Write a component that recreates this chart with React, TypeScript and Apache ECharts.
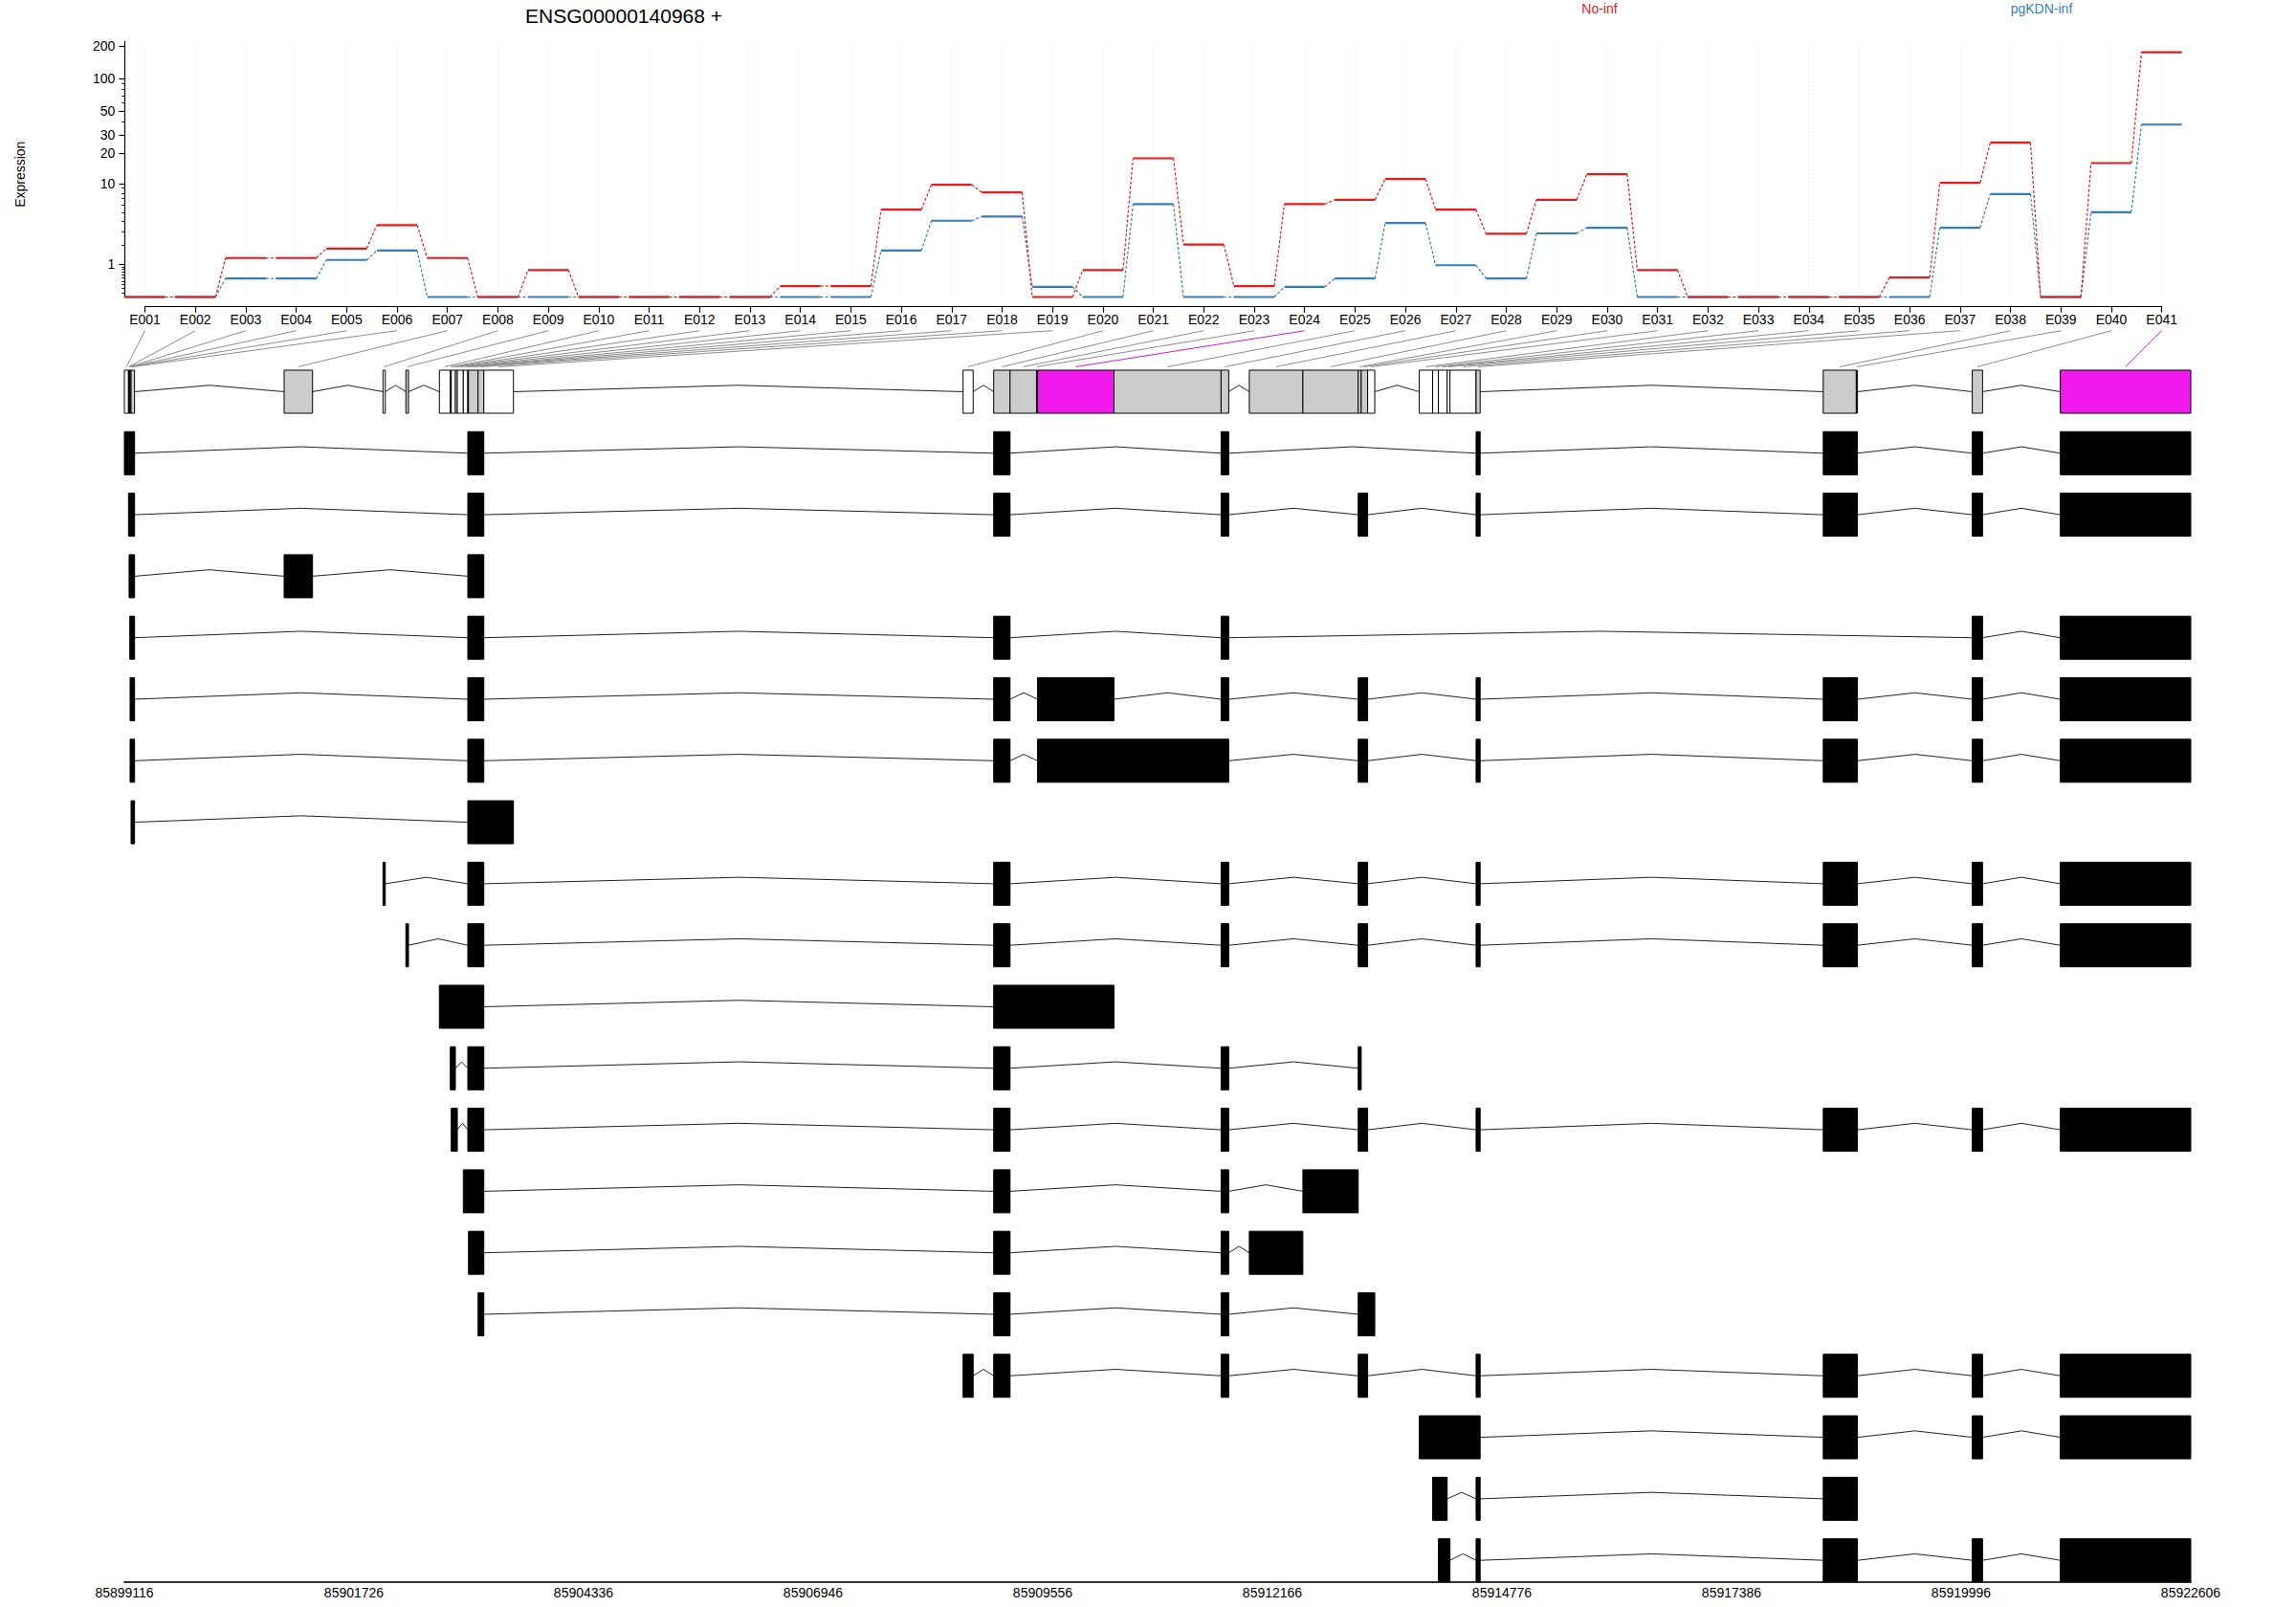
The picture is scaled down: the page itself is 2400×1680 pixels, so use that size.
import React, { useEffect, useRef } from "react";
import * as echarts from "echarts";

// ---------- data ----------
const GENE_ID = "ENSG00000140968 +";
const GENE_START = 85899116;
const GENE_END = 85922606;
const GENOME_TICK_STEP = 2610;

const exonLabels = [
  "E001","E002","E003","E004","E005","E006","E007","E008","E009","E010",
  "E011","E012","E013","E014","E015","E016","E017","E018","E019","E020",
  "E021","E022","E023","E024","E025","E026","E027","E028","E029","E030",
  "E031","E032","E033","E034","E035","E036","E037","E038","E039","E040","E041",
];

const conditionNames = ["No-inf", "pgKDN-inf"];
const yAxisTitle = "Expression";

const noInf = [
  0, 0, 1.28, 1.28, 1.79, 3.57, 1.28, 0, 0.77, 0,
  0, 0, 0, 0.26, 0.26, 5.36, 9.75, 8.15, 0, 0.77,
  17.8, 2.03, 0.26, 6.13, 6.83, 11.14, 5.36, 2.81, 6.83, 12.43,
  0.77, 0, 0, 0, 0, 0.51, 10.2, 25.2, 0, 16.0, 176.6,
];

const pgKdnInf = [
  0, 0, 0.48, 0.48, 1.19, 1.67, 0, 0, 0, 0,
  0, 0, 0, 0, 0, 1.67, 4.02, 4.49, 0.24, 0,
  6.13, 0, 0, 0.24, 0.48, 3.79, 0.96, 0.48, 2.84, 3.33,
  0, 0, 0, 0, 0, 0, 3.33, 7.84, 0, 5.02, 37.4,
];

const yMajorTicks = [1, 10, 20, 30, 50, 100, 200];
const yMinorTicks = [
  0.1, 0.2, 0.3, 0.4, 0.5, 0.6, 0.7, 0.8, 0.9,
  2, 3, 4, 5, 6, 7, 8, 9,
  40, 60, 70, 80, 90,
];
const yTopValue = 222;

// exonic parts (genomic start / end)
const partStarts = [
  85899116, 85899163, 85899170, 85899178, 85899181, 85899192, 85900932, 85902056, 85902316, 85902697,
  85902821, 85902832, 85902879, 85902901, 85902969, 85903020, 85903028, 85903137, 85903202, 85908650,
  85908998, 85909184, 85909485, 85909496, 85910366, 85911583, 85911904, 85912513, 85913142, 85913176,
  85913249, 85913836, 85913988, 85914054, 85914153, 85914185, 85914482, 85918428, 85918804, 85920122,
  85921123,
];
const partEnds = [
  85899163, 85899170, 85899178, 85899181, 85899192, 85899232, 85901255, 85902082, 85902346, 85902821,
  85902832, 85902879, 85902901, 85902969, 85903020, 85903028, 85903137, 85903202, 85903539, 85908765,
  85909184, 85909485, 85909496, 85910366, 85911583, 85911670, 85912513, 85913142, 85913176, 85913249,
  85913330, 85913988, 85914054, 85914153, 85914185, 85914482, 85914528, 85918804, 85918817, 85920239,
  85922606,
];
// 0 = not tested (white), 1 = tested (grey), 2 = significant (magenta)
const partStatus = [
  0, 0, 1, 1, 1, 1, 1, 0, 1, 0,
  0, 0, 0, 0, 0, 1, 1, 1, 0, 0,
  1, 1, 0, 2, 1, 1, 1, 1, 1, 1,
  0, 0, 0, 0, 0, 0, 1, 1, 0, 1, 2,
];

// transcripts: exons as [first exonic part, last exonic part] (1-based)
const transcripts = [
  [[1, 6], [16, 18], [21, 21], [26, 26], [37, 37], [38, 39], [40, 40], [41, 41]],
  [[2, 6], [16, 18], [21, 21], [26, 26], [29, 30], [37, 37], [38, 39], [40, 40], [41, 41]],
  [[3, 6], [7, 7], [16, 18]],
  [[4, 6], [16, 18], [21, 21], [26, 26], [40, 40], [41, 41]],
  [[5, 6], [16, 18], [21, 21], [24, 24], [26, 26], [29, 30], [37, 37], [38, 39], [40, 40], [41, 41]],
  [[5, 6], [16, 18], [21, 21], [24, 26], [29, 30], [37, 37], [38, 39], [40, 40], [41, 41]],
  [[6, 6], [16, 19]],
  [[8, 8], [16, 18], [21, 21], [26, 26], [29, 30], [37, 37], [38, 39], [40, 40], [41, 41]],
  [[9, 9], [16, 18], [21, 21], [26, 26], [29, 30], [37, 37], [38, 39], [40, 40], [41, 41]],
  [[10, 18], [21, 24]],
  [[11, 12], [16, 18], [21, 21], [26, 26], [29, 29]],
  [[12, 13], [16, 18], [21, 21], [26, 26], [29, 30], [37, 37], [38, 39], [40, 40], [41, 41]],
  [[15, 18], [21, 21], [26, 26], [28, 28]],
  [[17, 18], [21, 21], [26, 26], [27, 27]],
  [[18, 18], [21, 21], [26, 26], [29, 31]],
  [[20, 20], [21, 21], [26, 26], [29, 30], [37, 37], [38, 39], [40, 40], [41, 41]],
  [[32, 37], [38, 39], [40, 40], [41, 41]],
  [[33, 34], [37, 37], [38, 39]],
  [[34, 35], [37, 37], [38, 39], [40, 40], [41, 41]],
];

// ---------- styles ----------
const FONT = "'Liberation Sans', Arial, Helvetica, sans-serif";
const RED = "#E41A1C";
const BLUE = "#377EB8";
const MAGENTA = "#F219ED";
const GREY_FILL = "#CCCCCC";
const ROW_H = 0.7;

const tr = (v: number) => Math.log10(v + 1);

function buildOption() {
  const n = exonLabels.length;
  const exprData = (arr: number[]) =>
    arr.map((v, k) => [k + 1, tr(v), tr(k < n - 1 ? arr[k + 1] : v), k < n - 1 ? 1 : 0]);

  const exprRender = (color: string) => (params: any, api: any) => {
    const i = api.value(0);
    const y = api.value(1);
    const yn = api.value(2);
    const hasNext = api.value(3);
    const a = api.coord([i - 0.4, y]);
    const b = api.coord([i + 0.4, y]);
    const children: any[] = [
      { type: "line", shape: { x1: a[0], y1: a[1], x2: b[0], y2: b[1] }, style: { stroke: color, lineWidth: 2.2 } },
    ];
    if (hasNext) {
      const c = api.coord([i + 0.6, yn]);
      children.push({
        type: "line",
        shape: { x1: b[0], y1: b[1], x2: c[0], y2: c[1] },
        style: { stroke: color, lineWidth: 1.2, lineDash: [3, 2] },
      });
    }
    return { type: "group", children };
  };

  // gene model parts
  const partData = partStarts.map((s, k) => [s - GENE_START, partEnds[k] - GENE_START, 0, partStatus[k]]);

  // gene model introns: merge contiguous parts
  const clusters: number[][] = [];
  partStarts.forEach((s, k) => {
    const last = clusters[clusters.length - 1];
    if (last && last[1] === s) last[1] = partEnds[k];
    else clusters.push([s, partEnds[k]]);
  });
  const intronData: number[][] = [];
  for (let c = 0; c < clusters.length - 1; c++) {
    intronData.push([clusters[c][1] - GENE_START, clusters[c + 1][0] - GENE_START, 0]);
  }

  const exonData: number[][] = [];
  transcripts.forEach((tx, t) => {
    const row = t + 1;
    const ex = tx.map(([a, b]) => [partStarts[a - 1], partEnds[b - 1]]);
    ex.forEach(([s, e], j) => {
      exonData.push([s - GENE_START, e - GENE_START, row]);
      if (j < ex.length - 1) intronData.push([e - GENE_START, ex[j + 1][0] - GENE_START, row]);
    });
  });

  const rectRender = (fillFn: (api: any) => string) => (params: any, api: any) => {
    const s = api.value(0);
    const e = api.value(1);
    const r = api.value(2);
    const p1 = api.coord([s, r]);
    const p2 = api.coord([e, r + ROW_H]);
    return {
      type: "rect",
      shape: { x: p1[0], y: p1[1], width: Math.max(p2[0] - p1[0], 0.5), height: p2[1] - p1[1] },
      style: { fill: fillFn(api), stroke: "#000", lineWidth: 1 },
    };
  };

  const intronRender = (params: any, api: any) => {
    const x1 = api.value(0);
    const x2 = api.value(1);
    const r = api.value(2);
    const mid = r + ROW_H / 2;
    const p1 = api.coord([x1, mid]);
    const p2 = api.coord([(x1 + x2) / 2, mid - 0.105]);
    const p3 = api.coord([x2, mid]);
    return {
      type: "polyline",
      shape: { points: [p1, p2, p3] },
      style: { stroke: "#222", lineWidth: 1, fill: null },
    };
  };

  const vgridRender = (params: any, api: any) => {
    const i = api.value(0);
    const a = api.coord([i, 0]);
    const b = api.coord([i, tr(yTopValue)]);
    return {
      type: "line",
      shape: { x1: a[0], y1: a[1], x2: b[0], y2: b[1] },
      style: { stroke: "#DDDDDD", lineWidth: 1, lineDash: [1, 3] },
    };
  };

  return {
    animation: false,
    backgroundColor: "#FFFFFF",
    textStyle: { fontFamily: FONT },
    grid: [
      { left: 130.4, top: 43.3, width: 2150.2, height: 267.2 },
      { left: 151.5, top: 300, width: 2108.2, height: 20.7 },
      { left: 130, top: 387, width: 2160, height: 1266.7 },
    ],
    xAxis: [
      { gridIndex: 0, type: "value", min: 0.6, max: 41.4, show: false },
      {
        gridIndex: 1,
        type: "value",
        min: 1,
        max: n,
        interval: 1,
        position: "bottom",
        axisLine: { show: true, onZero: false, lineStyle: { color: "#000", width: 1.2 } },
        axisTick: { show: true, length: 6, lineStyle: { color: "#000", width: 1.2 } },
        axisLabel: {
          show: true,
          fontSize: 14,
          color: "#000",
          margin: 6,
          hideOverlap: false,
          showMinLabel: true,
          showMaxLabel: true,
          formatter: (v: number) => exonLabels[Math.round(v) - 1] || "",
        },
        splitLine: { show: false },
      },
      {
        gridIndex: 2,
        type: "value",
        min: 0,
        max: GENE_END - GENE_START,
        interval: GENOME_TICK_STEP,
        position: "bottom",
        axisLine: { show: true, onZero: false, lineStyle: { color: "#333", width: 2 } },
        axisTick: { show: false },
        axisLabel: {
          show: true,
          fontSize: 14,
          color: "#000",
          margin: 4,
          hideOverlap: false,
          showMinLabel: true,
          showMaxLabel: true,
          formatter: (v: number) => String(GENE_START + v),
        },
        splitLine: { show: false },
      },
    ],
    yAxis: [
      {
        gridIndex: 0,
        type: "value",
        position: "left",
        min: 0,
        max: tr(yTopValue),
        axisLine: { show: true, onZero: false, lineStyle: { color: "#000", width: 1.2 } },
        axisTick: {
          show: true,
          length: 6,
          customValues: yMajorTicks.map(tr),
          lineStyle: { color: "#000", width: 1.2 },
        },
        axisLabel: {
          show: true,
          fontSize: 14,
          color: "#000",
          margin: 10,
          customValues: yMajorTicks.map(tr),
          formatter: (v: number) => String(Math.round(Math.pow(10, v) - 1)),
        },
        splitLine: { show: false },
      },
      {
        gridIndex: 0,
        type: "value",
        position: "left",
        offset: 0,
        min: 0,
        max: tr(yTopValue),
        axisLine: { show: false, onZero: false },
        axisTick: {
          show: true,
          length: 3,
          customValues: yMinorTicks.map(tr),
          lineStyle: { color: "#000", width: 1 },
        },
        axisLabel: { show: false },
        splitLine: { show: false },
      },
      { gridIndex: 1, type: "value", min: 0, max: 1, show: false },
      { gridIndex: 2, type: "value", min: 0, max: transcripts.length + ROW_H, inverse: true, show: false },
    ],
    series: [
      {
        type: "custom",
        name: "grid",
        xAxisIndex: 0,
        yAxisIndex: 0,
        data: exonLabels.map((_, k) => [k + 1]),
        renderItem: vgridRender,
        silent: true,
        z: 1,
      },
      {
        type: "custom",
        name: conditionNames[1],
        xAxisIndex: 0,
        yAxisIndex: 0,
        data: exprData(pgKdnInf),
        renderItem: exprRender(BLUE),
        silent: true,
        z: 2,
      },
      {
        type: "custom",
        name: conditionNames[0],
        xAxisIndex: 0,
        yAxisIndex: 0,
        data: exprData(noInf),
        renderItem: exprRender(RED),
        silent: true,
        z: 3,
      },
      {
        type: "custom",
        name: "introns",
        xAxisIndex: 2,
        yAxisIndex: 3,
        data: intronData,
        renderItem: intronRender,
        silent: true,
        z: 2,
      },
      {
        type: "custom",
        name: "geneModel",
        xAxisIndex: 2,
        yAxisIndex: 3,
        data: partData,
        renderItem: rectRender((api: any) => {
          const st = api.value(3);
          return st === 2 ? MAGENTA : st === 1 ? GREY_FILL : "#FFFFFF";
        }),
        silent: true,
        z: 3,
      },
      {
        type: "custom",
        name: "transcripts",
        xAxisIndex: 2,
        yAxisIndex: 3,
        data: exonData,
        renderItem: rectRender(() => "#000000"),
        silent: true,
        z: 3,
      },
    ],
  };
}

export default function App() {
  const ref = useRef<HTMLDivElement>(null);
  useEffect(() => {
    if (!ref.current) return;
    const chart = echarts.init(ref.current, null, { renderer: "svg" });
    chart.setOption(buildOption() as any);

    const connectors = partStarts.map((s, k) => {
      const top = chart.convertToPixel({ gridIndex: 1 } as any, [k + 1, 0]) as number[];
      const center = (s + partEnds[k]) / 2 - GENE_START;
      const bot = chart.convertToPixel({ gridIndex: 2 } as any, [center, -0.055]) as number[];
      return {
        type: "line",
        silent: true,
        shape: { x1: top[0], y1: top[1] + 25, x2: bot[0], y2: bot[1] },
        style: { stroke: partStatus[k] === 2 ? "#C81FC6" : "#8C8C8C", lineWidth: 1 },
        z: 1,
      };
    });

    const yMid = chart.convertToPixel({ gridIndex: 0 } as any, [0.6, tr(yTopValue) * 0.48]) as number[];
    chart.setOption({
      graphic: [
        {
          type: "text",
          silent: true,
          x: 652,
          y: 16,
          style: { text: GENE_ID, fill: "#000", font: `21px ${FONT}`, align: "center", verticalAlign: "middle" },
        },
        {
          type: "text",
          silent: true,
          x: 1672,
          y: 9,
          style: { text: conditionNames[0], fill: RED, font: `14px ${FONT}`, align: "center", verticalAlign: "middle" },
        },
        {
          type: "text",
          silent: true,
          x: 2134,
          y: 9,
          style: { text: conditionNames[1], fill: BLUE, font: `14px ${FONT}`, align: "center", verticalAlign: "middle" },
        },
        {
          type: "text",
          silent: true,
          x: 21,
          y: yMid[1],
          rotation: Math.PI / 2,
          style: { text: yAxisTitle, fill: "#000", font: `14px ${FONT}`, align: "center", verticalAlign: "middle" },
        },
        ...connectors,
      ],
    } as any);

    return () => chart.dispose();
  }, []);

  return (
    <div
      ref={ref}
      style={{ position: "fixed", left: 0, top: 0, width: 2400, height: 1680, background: "#fff" }}
    />
  );
}
